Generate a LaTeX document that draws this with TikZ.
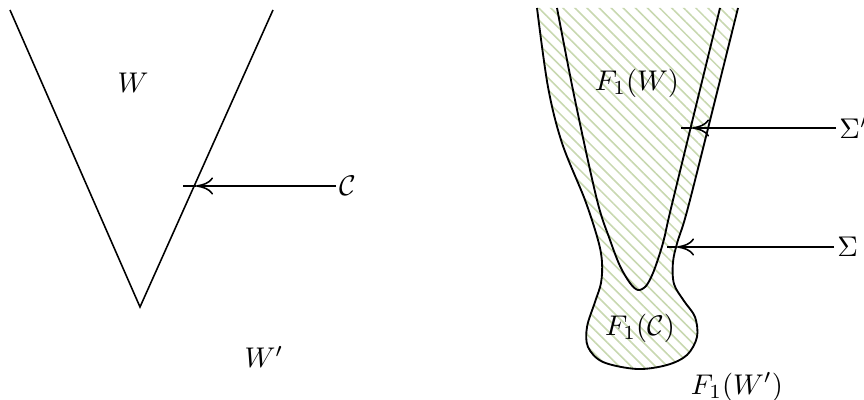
\documentclass[tikz,border=0pt]{standalone}
\usetikzlibrary{arrows.meta,patterns.meta}
\definecolor{hatchgreen}{RGB}{200,216,176}
\begin{document}
\begin{tikzpicture}[x=0.351pt,y=-0.351pt,
  curve/.style={line width=0.65pt},
  vline/.style={line width=0.55pt},
  pointer/.style={line width=0.55pt,-{To[length=6pt,width=6pt]}},
  stub/.style={line width=0.55pt},
  lbl/.style={inner sep=1pt}]
\useasboundingbox (0,0) rectangle (864,400);
% left V
\coordinate (vl) at (10,10);
\coordinate (va) at (140,307);
\coordinate (vr) at (273,10);
\draw[vline] (vl) -- (va) -- (vr);
\node[lbl] (W) at (133,83) {$W$};
\node[lbl] (Wp) at (264,357) {$W'$};
\node[lbl,anchor=west] (C) at (336,186) {$\mathcal{C}$};
\coordinate (cjoint) at (196,186);
\coordinate (ctip) at (183,186);
\draw[pointer] (C.west) -- (C.west -| cjoint);
\draw[stub] (C.west -| cjoint) -- (C.west -| ctip);
% right figure: hatched region
\def\outerpts{(537,8) (548,87) (562,143) (585,200) (598,240) (602,262) (601,283) (595,302) (587,327) (588,347) (603,362) (637,369) (667,365) (687,355) (697,337) (695,317) (684,301) (674,284) (673,262) (678,240) (690,200) (738,8)}
\fill[pattern={Lines[angle=-45,distance=3pt,line width=0.55pt]},pattern color=hatchgreen]
  plot[smooth,tension=0.55] coordinates {\outerpts} -- cycle;
% outer curve Sigma
\draw[curve] plot[smooth,tension=0.55] coordinates {\outerpts};
% inner curve Sigma'
\draw[curve] plot[smooth,tension=0.55] coordinates {(557,8) (575,100) (597,200) (610,240) (620,266) (630,283) (638,290) (646,286) (653,273) (660,253) (665,235) (673,200) (720,8)};
\node[lbl] (FW) at (637,83) {$F_1(W)$};
\node[lbl] (FC) at (640,328) {$F_1(\mathcal{C})$};
\node[lbl] (FWp) at (737,387) {$F_1(W')$};
\node[lbl,anchor=west] (Sp) at (836,128) {$\Sigma'$};
\node[lbl,anchor=west] (S) at (834,247) {$\Sigma$};
\coordinate (spjoint) at (692,128);
\coordinate (sptip) at (681,128);
\coordinate (sjoint) at (677,247);
\coordinate (stip) at (667,247);
\draw[pointer] (Sp.west) -- (Sp.west -| spjoint);
\draw[stub] (Sp.west -| spjoint) -- (Sp.west -| sptip);
\draw[pointer] (S.west) -- (S.west -| sjoint);
\draw[stub] (S.west -| sjoint) -- (S.west -| stip);
\end{tikzpicture}
\end{document}
